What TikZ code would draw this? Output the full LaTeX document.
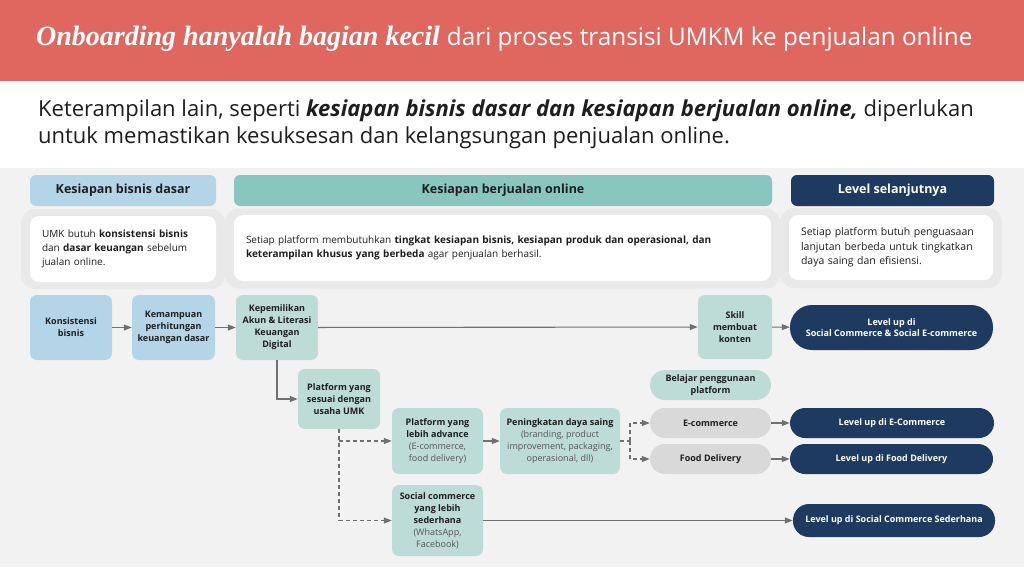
\documentclass[tikz,border=0pt]{standalone}
\usepackage{fontspec}
\setmainfont{Open Sans}
\newfontfamily\titleserif{Liberation Serif}
\usetikzlibrary{arrows.meta}
\definecolor{hdrred}{HTML}{E06760}
\definecolor{bggray}{HTML}{F2F2F2}
\definecolor{bandgray}{HTML}{E9E9E9}
\definecolor{lblue}{HTML}{B4D5E8}
\definecolor{tealhd}{HTML}{88C6BF}
\definecolor{lteal}{HTML}{BDDCD8}
\definecolor{navy}{HTML}{1F3A60}
\definecolor{pillgray}{HTML}{D9D9D9}
\definecolor{txt}{HTML}{1E1E1E}
\definecolor{subgray}{HTML}{555555}
\definecolor{arrgray}{HTML}{707070}
\newcommand{\subtxt}[1]{{\mdseries\color{subgray}#1}}
\tikzset{
  box/.style={rounded corners=7pt, align=center, inner sep=2pt, text=txt,
    font=\fontsize{9}{12}\selectfont\bfseries},
  bluebox/.style={box, fill=lblue},
  tealbox/.style={box, fill=lteal},
  hdrbox/.style={rounded corners=6pt, align=center, font=\fontsize{12.5}{14}\selectfont\bfseries},
  descbox/.style={rounded corners=9pt, fill=white, align=left, text=txt, inner xsep=12pt,
    font=\fontsize{10}{13.8}\selectfont},
  shadowbox/.style={rounded corners=14pt, fill=bandgray},
  navypill/.style={fill=navy, text=white, align=center, font=\fontsize{9}{11.5}\selectfont\bfseries},
  graypill/.style={rounded corners=15pt, fill=pillgray, text=txt, align=center, font=\fontsize{9}{11.5}\selectfont\bfseries},
  arr/.style={draw=arrgray, line width=1.1pt, -{Triangle[width=6pt,length=8pt]}},
  dsh/.style={arr, dash pattern=on 4pt off 3pt},
}
\begin{document}
\begin{tikzpicture}[x=1pt,y=-1pt]
\useasboundingbox (0,0) rectangle (1024,567);
% backgrounds
\fill[bggray] (0,168) rectangle (1024,567);
\fill[white] (0,81) rectangle (1024,168);
\fill[hdrred] (0,0) rectangle (1024,81);
% title
\node[anchor=base west, inner sep=0pt, text=white] (title) at (36,46)
  {{\titleserif\bfseries\itshape\fontsize{28}{32}\selectfont Onboarding hanyalah bagian kecil}\hspace{7pt}{\fontsize{24.3}{28}\selectfont dari proses transisi UMKM ke penjualan online}};
\node[anchor=base west, inner sep=0pt, text=txt, font=\fontsize{22}{26}\selectfont] (intro1) at (38,117)
  {Keterampilan lain, seperti \textbf{\itshape kesiapan bisnis dasar dan kesiapan berjualan online,} diperlukan};
\node[anchor=base west, inner sep=0pt, text=txt, font=\fontsize{22}{26}\selectfont] (intro2) at (38,143)
  {untuk memastikan kesuksesan dan kelangsungan penjualan online.};
% header boxes
\node[hdrbox, fill=lblue, text=txt, minimum width=186pt, minimum height=31pt] (h1) at (123,190.5) {Kesiapan bisnis dasar};
\node[hdrbox, fill=tealhd, text=txt, minimum width=538pt, minimum height=31pt] (h2) at (503,190.5) {Kesiapan berjualan online};
\node[hdrbox, fill=navy, text=white, minimum width=203pt, minimum height=31pt] (h3) at (892.5,190.5) {Level selanjutnya};
% description shadows
\node[shadowbox, minimum width=204pt, minimum height=80pt] (s1) at (123,249) {};
\node[shadowbox, minimum width=555pt, minimum height=80pt] (s2) at (502.5,248.5) {};
\node[shadowbox, minimum width=222pt, minimum height=80pt] (s3) at (891,248) {};
% descriptions
\node[descbox, minimum width=186pt, minimum height=66pt, text width=162pt] (d1) at (123,249)
  {UMK butuh \textbf{konsistensi bisnis}\\dan \textbf{dasar keuangan} sebelum\\jualan online.};
\node[descbox, minimum width=537pt, minimum height=66pt, text width=513pt] (d2) at (502.5,248)
  {Setiap platform membutuhkan \textbf{tingkat kesiapan bisnis, kesiapan produk dan operasional, dan}\\\textbf{keterampilan khusus yang berbeda} agar penjualan berhasil.};
\node[descbox, minimum width=204pt, minimum height=65pt, text width=180pt, font=\fontsize{10.5}{14.5}\selectfont] (d3) at (891,247.5)
  {Setiap platform butuh penguasaan\\lanjutan berbeda untuk tingkatkan\\daya saing dan efisiensi.};
% row 1
\node[bluebox, minimum width=82pt, minimum height=65pt] (n1) at (71,327.5) {Konsistensi\\bisnis};
\node[bluebox, minimum width=83pt, minimum height=65pt] (n2) at (173.5,327.5) {Kemampuan\\perhitungan\\keuangan dasar};
\node[tealbox, minimum width=82pt, minimum height=65pt] (n3) at (277,327.5) {Kepemilikan\\Akun \& Literasi\\Keuangan\\Digital};
\node[tealbox, minimum width=74pt, minimum height=64pt] (n4) at (735,327) {Skill\\membuat\\konten};
\node[navypill, rounded corners=22pt, minimum width=203pt, minimum height=45pt] (L1) at (891.5,327.5) {Level up di\\Social Commerce \& Social E-commerce};
% lower rows
\node[tealbox, minimum width=82pt, minimum height=60pt] (n5) at (339,399) {Platform yang\\sesuai dengan\\usaha UMK};
\node[tealbox, minimum width=91pt, minimum height=66pt] (n6) at (437.5,441) {Platform yang\\lebih advance\\\subtxt{(E-commerce,}\\\subtxt{food delivery)}};
\node[tealbox, minimum width=120pt, minimum height=66pt] (n7) at (560,441) {Peningkatan daya saing\\\subtxt{(branding, product}\\\subtxt{improvement, packaging,}\\\subtxt{operasional, dll)}};
\node[tealbox, rounded corners=15pt, minimum width=121pt, minimum height=30pt, font=\fontsize{9}{11.5}\selectfont\bfseries] (bel) at (710.5,385) {Belajar penggunaan\\platform};
\node[graypill, minimum width=121pt, minimum height=30pt] (ec) at (710.5,423) {E-commerce};
\node[graypill, minimum width=121pt, minimum height=30pt] (fd) at (710.5,459) {Food Delivery};
\node[navypill, rounded corners=15pt, minimum width=204pt, minimum height=30pt] (L2) at (892,423) {Level up di E-Commerce};
\node[navypill, rounded corners=15pt, minimum width=203pt, minimum height=30pt] (L3) at (891.5,459) {Level up di Food Delivery};
\node[tealbox, minimum width=91pt, minimum height=71pt] (n8) at (437.5,520.5) {Social commerce\\yang lebih\\sederhana\\\subtxt{(WhatsApp,}\\\subtxt{Facebook)}};
\node[navypill, rounded corners=16pt, minimum width=202pt, minimum height=33pt] (L4) at (894,520.5) {Level up di Social Commerce Sederhana};
% connectors
\draw[arr] (n1) -- (n2);
\draw[arr] (n2) -- (n3);
\draw[arr] (n3) -- (n4);
\draw[arr] (n4) -- (L1);
\draw[arr] (n3.south) |- (n5.west);
\draw[dsh] (n5.south) |- (n8.west);
\draw[dsh] (n5.south |- n6.west) -- (n6.west);
\draw[arr] (n6) -- (n7);
\coordinate (br) at (630,441);
\draw[draw=arrgray, line width=1.1pt, dash pattern=on 4pt off 3pt] (n7.east) -- (br);
\draw[dsh] (br) |- (ec.west);
\draw[dsh] (br) |- (fd.west);
\draw[arr] (ec) -- (L2);
\draw[arr] (fd) -- (L3);
\draw[arr] (n8) -- (L4);
\end{tikzpicture}
\end{document}
